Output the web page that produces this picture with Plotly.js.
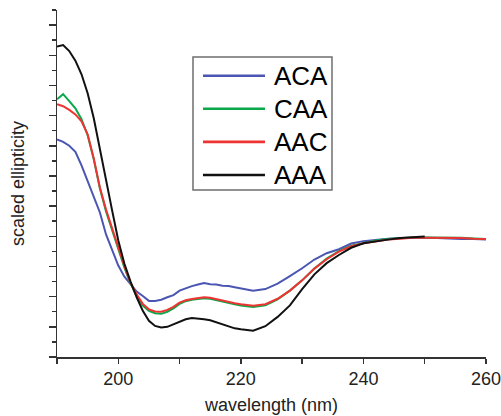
<!DOCTYPE html>
<html>
<head>
<meta charset="utf-8">
<script src="https://cdn.plot.ly/plotly-3.0.1.min.js"></script>
<style>html,body{margin:0;padding:0;background:#fff;}#chart{width:501px;height:416px;}</style>
</head>
<body>
<div id="chart"></div>
<script>
// wavelength samples (nm)
const wlA = [190,190.5,191,192,193,194,195,196,197,198,199,200,201,202,203,204,205,206,207,208,209,210,211,212,213,214,215,216,217,218,219,220,222,224,226,228,230,232,234,236,238,240,242,244,246,248,250,252,254,256,258,260];
const wlAAA = [190,190.5,191,192,193,194,195,196,197,198,199,200,201,202,203,204,205,206,207,208,209,210,211,212,213,214,215,216,217,218,219,220,222,224,226,228,230,232,234,236,238,240,242,244,246,248,250];

const names = ["ACA","CAA","AAC","AAA"];
const colors = ["#4a56b2","#0ba84a","#ee3333","#111111"];

const ACA = [3.21,3.17,3.13,3.00,2.80,2.35,1.85,1.29,0.79,0.06,-0.49,-0.97,-1.34,-1.60,-1.83,-1.98,-2.14,-2.14,-2.10,-2.02,-1.95,-1.80,-1.72,-1.65,-1.60,-1.55,-1.59,-1.60,-1.64,-1.65,-1.69,-1.72,-1.80,-1.75,-1.57,-1.32,-1.06,-0.77,-0.56,-0.43,-0.24,-0.16,-0.11,-0.08,-0.06,-0.05,-0.05,-0.06,-0.08,-0.09,-0.09,-0.11];
const CAA = [4.54,4.61,4.71,4.48,4.24,3.88,3.35,2.55,1.58,0.82,0.19,-0.41,-1.04,-1.57,-1.97,-2.30,-2.47,-2.55,-2.57,-2.50,-2.39,-2.24,-2.15,-2.10,-2.07,-2.05,-2.07,-2.12,-2.15,-2.20,-2.25,-2.29,-2.34,-2.29,-2.09,-1.80,-1.46,-1.07,-0.74,-0.49,-0.31,-0.23,-0.14,-0.09,-0.06,-0.04,-0.04,-0.04,-0.05,-0.05,-0.07,-0.09];
const AAC = [4.38,4.35,4.31,4.19,4.04,3.81,3.38,2.58,1.62,0.89,0.26,-0.34,-0.99,-1.54,-1.92,-2.24,-2.42,-2.49,-2.50,-2.44,-2.34,-2.20,-2.12,-2.08,-2.04,-2.02,-2.04,-2.09,-2.12,-2.17,-2.22,-2.25,-2.30,-2.25,-2.07,-1.80,-1.46,-1.07,-0.76,-0.51,-0.33,-0.23,-0.16,-0.11,-0.08,-0.05,-0.05,-0.05,-0.05,-0.06,-0.08,-0.09];
const AAA = [6.29,6.32,6.34,6.14,5.82,5.37,4.74,3.91,2.85,1.78,0.85,-0.14,-0.91,-1.50,-2.02,-2.47,-2.80,-2.97,-3.02,-3.00,-2.92,-2.82,-2.75,-2.71,-2.72,-2.75,-2.78,-2.85,-2.92,-2.98,-3.05,-3.08,-3.13,-2.98,-2.67,-2.29,-1.75,-1.26,-0.89,-0.62,-0.38,-0.23,-0.16,-0.11,-0.06,-0.03,-0.01];

const xTickVals = [190,200,210,220,230,240,250,260];
const xTickText = ["","200","","220","","240","","260"];

const seriesY = [ACA, CAA, AAC, AAA];
const seriesX = [wlA, wlA, wlA, wlAAA];

const traces = names.map((n,i)=>({
  type:"scatter", mode:"lines", name:n,
  x: seriesX[i], y: seriesY[i],
  line:{color:colors[i], width:2},
  showlegend:false
}));

// custom legend (box, line samples, labels) in paper coordinates
const shapes = [{type:"rect", xref:"paper", yref:"paper", x0:0.317, x1:0.641, y0:0.481, y1:0.8646,
  line:{color:"#6e6e6e", width:1.5}, fillcolor:"rgba(255,255,255,0)"}];
const annotations = [];
const legY0 = 0.8107, legStep = 0.0954;
names.forEach((n,i)=>{
  const yy = legY0 - i*legStep;
  shapes.push({type:"line", xref:"paper", yref:"paper", x0:0.3403, x1:0.4848, y0:yy, y1:yy,
    line:{color:colors[i], width:2.6}});
  annotations.push({xref:"paper", yref:"paper", x:0.5012, y:yy, xanchor:"left", yanchor:"middle",
    text:n, showarrow:false, font:{family:"Liberation Sans, Arial, sans-serif", size:26, color:"#000"}});
});

const layout = {
  width:501, height:416,
  margin:{l:57, r:15, t:10, b:59},
  paper_bgcolor:"#fff", plot_bgcolor:"#fff",
  font:{family:"Liberation Sans, Arial, sans-serif", color:"#222"},
  showlegend:false,
  xaxis:{
    range:[190,260], showgrid:false, zeroline:false,
    showline:true, linecolor:"#333", linewidth:1.5, mirror:false,
    tickmode:"array", tickvals:xTickVals, ticktext:xTickText,
    ticks:"outside", ticklen:5, tickwidth:1.5, tickcolor:"#333",
    tickfont:{size:18, color:"#222"}, ticklabeloverflow:"allow",
    title:{text:"wavelength (nm)", font:{size:18, color:"#222"}, standoff:10},
    automargin:false
  },
  yaxis:{
    range:[-4,7.5], showgrid:false, zeroline:false,
    showline:true, linecolor:"#333", linewidth:1.5,
    tickmode:"linear", tick0:-4, dtick:1,
    ticks:"outside", ticklen:7, tickwidth:1.5, tickcolor:"#333",
    showticklabels:false,
    minor:{tick0:-4, dtick:0.5, ticks:"outside", ticklen:4, tickwidth:1.5, tickcolor:"#333", showgrid:false},
    title:{text:"scaled ellipticity", font:{size:18, color:"#222"}, standoff:19},
    automargin:false
  },
  shapes:shapes,
  annotations:annotations
};

Plotly.newPlot("chart", traces, layout, {staticPlot:true, displayModeBar:false});
</script>
</body>
</html>
